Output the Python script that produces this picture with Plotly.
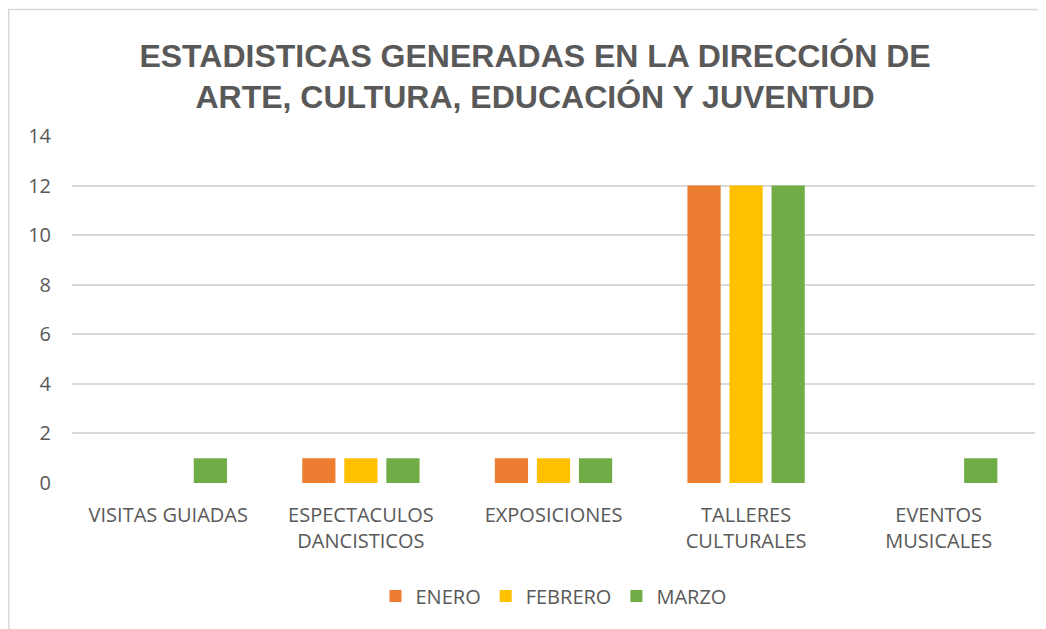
import plotly.graph_objects as go

categories = ["VISITAS GUIADAS", "ESPECTACULOS<br>DANCISTICOS", "EXPOSICIONES",
              "TALLERES<br>CULTURALES", "EVENTOS<br>MUSICALES"]
enero = [0, 1, 1, 12, 0]
febrero = [0, 1, 1, 12, 0]
marzo = [1, 1, 1, 12, 1]
series_names = ["ENERO", "FEBRERO", "MARZO"]
colors = ["#ED7D31", "#FFC000", "#70AD47"]
y_ticks = [0, 2, 4, 6, 8, 10, 12, 14]

fig = go.Figure()
for name, vals, col in zip(series_names, [enero, febrero, marzo], colors):
    fig.add_trace(go.Bar(x=categories, y=vals, name=name,
                         marker=dict(color=col, line=dict(width=0))))

W, H = 1046, 629
OFF = 8  # page body margin
# plot area in screen pixels: x 72..1035, y 136..483
L = 72 - OFF
T = 136 - OFF
R = W - (1035 - OFF)
B = H - (483 - OFF)
pw, ph = W - L - R, H - T - B

def px_to_paper_x(px):
    return (px - OFF - L) / pw

def px_to_paper_y(py):
    return (H - B - (py - OFF)) / ph

font_main = "Open Sans"
fs = 20

fig.update_layout(
    width=W, height=H,
    margin=dict(l=L, r=R, t=T, b=B),
    paper_bgcolor="white", plot_bgcolor="white",
    barmode="group", bargap=0.345, bargroupgap=0.21,
    font=dict(family=font_main, color="#595959", size=fs),
    title=dict(text="<b>ESTADISTICAS GENERADAS EN LA DIRECCIÓN DE<br>ARTE, CULTURA, EDUCACIÓN Y JUVENTUD</b>",
               x=(535 - OFF) / W, xanchor="center", y=1 - (66.5 - OFF) / H, yanchor="middle",
               yref="container",
               font=dict(family="Liberation Sans", size=32, color="#595959")),
    xaxis=dict(showgrid=False, showline=False, zeroline=False, ticks="",
               tickfont=dict(family=font_main, size=fs, color="#595959"), ticklabelstandoff=18),
    yaxis=dict(range=[0, 14], tickvals=y_ticks, showgrid=True, gridcolor="#D9D9D9",
               gridwidth=1.5, zeroline=False, showline=False, ticks="",
               tickfont=dict(family=font_main, size=fs, color="#595959"), ticklabelstandoff=20),
    legend=dict(orientation="h", x=0.5, xanchor="center",
                y=px_to_paper_y(596), yanchor="middle",
                font=dict(family=font_main, size=fs, color="#595959"), itemwidth=30,
                traceorder="normal"),
    shapes=[dict(type="rect", xref="paper", yref="paper",
                 x0=px_to_paper_x(8.75), x1=px_to_paper_x(1070),
                 y0=px_to_paper_y(660), y1=px_to_paper_y(9.5),
                 line=dict(color="#D9D9D9", width=1.5), layer="below")],
)

fig.write_html("out.html")
